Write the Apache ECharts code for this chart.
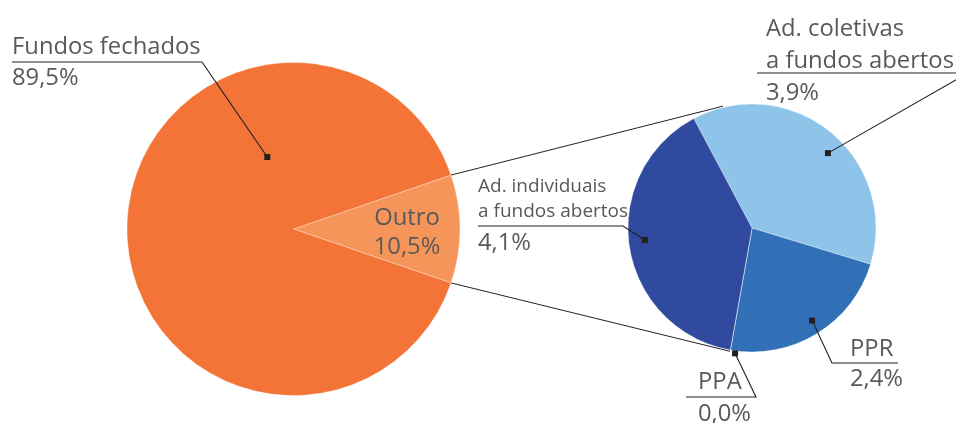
<!DOCTYPE html>
<html>
<head>
<meta charset="utf-8">
<script src="https://cdn.jsdelivr.net/npm/echarts@6/dist/echarts.min.js"></script>
<style>html,body{margin:0;padding:0;background:#fff}#chart{width:956px;height:423px}</style>
</head>
<body>
<div id="chart"></div>
<script>
var mainNames = ['Outro', 'Fundos fechados'];
var mainValues = [10.5, 89.5];
var subNames = ['Ad. coletivas\na fundos abertos', 'PPR', 'PPA', 'Ad. individuais\na fundos abertos'];
var subValues = [3.9, 2.4, 0.0, 4.1];
var mainColors = ['#F6955A', '#F37436'];
var subColors = ['#8EC3EA', '#3170B7', '#A9C4E6', '#2F4A9E'];

var font = 'Open Sans';
var textColor = '#58595B';
var lineColor = '#231F20';

var bigC = [293.5, 229], bigR = 166.5;
var smallC = [752, 228], smallR = 124;
var subStart = 118;

// where each label goes: top-left of text, leader line = dot (angle, share of radius) -> bend -> end
var mainLayout = [
    {x: 407, y: 204, align: 'center'},
    {x: 12, y: 32, dot: [110, 0.46], bend: [202, 62], end: [12, 62]}
];
var subLayout = [
    {x: 766, y: 13, dot: [44.6, 0.86], bend: [968, 73], end: [757, 73]},
    {x: 850, y: 334, dot: [-57, 0.89], bend: [832, 363], end: [898, 363]},
    {x: 698, y: 366, dot: [-97.7, 1.02], bend: [756, 397], end: [686, 397]},
    {x: 478, y: 174, dot: [186.4, 0.87], bend: [623, 226], end: [478, 226]}
];

function polar(c, r, deg, f){
    var a = deg * Math.PI / 180;
    return [c[0] + r * f * Math.cos(a), c[1] - r * f * Math.sin(a)];
}
function pct(v){
    return v.toFixed(1).replace('.', ',') + '%';
}
function rich(nSize, nLh, vLh){
    return {
        n: {fontFamily: font, fontSize: nSize, color: textColor, lineHeight: nLh},
        v: {fontFamily: font, fontSize: 23.8, color: textColor, lineHeight: vLh}
    };
}
function fmt(p){
    return p.name.split('\n').map(function(s){ return '{n|' + s + '}'; }).join('\n') + '\n{v|' + pct(p.value) + '}';
}

var mainData = mainNames.map(function(n, i){
    return {name: n, value: mainValues[i], itemStyle: {color: mainColors[i]}};
});
mainData[0].label = {rich: rich(23.8, 29, 29)};

var subData = subNames.map(function(n, i){
    return {name: n, value: subValues[i], itemStyle: {color: subColors[i]}};
});
subData[0].label = {rich: rich(23.8, 32, 32)};
subData[1].label = {rich: rich(23.8, 30, 30)};
subData[2].label = {rich: rich(23.8, 32, 32)};
subData[3].label = {rich: rich(19, 25, 39)};

function layoutFor(layouts){
    return function(params){
        var L = layouts[params.dataIndex];
        return {x: L.x, y: L.y, align: L.align || 'left', verticalAlign: 'top'};
    };
}

// leader lines with a small square at the start, and the two connectors between pies
var graphics = [];
function addLeaders(layouts, c, r){
    layouts.forEach(function(L){
        if (!L.dot) return;
        var p = polar(c, r, L.dot[0], L.dot[1]);
        graphics.push({type: 'polyline', shape: {points: [p, L.bend, L.end]}, style: {stroke: lineColor, lineWidth: 1.1, fill: null}, z: 100});
        graphics.push({type: 'rect', shape: {x: p[0] - 3, y: p[1] - 3, width: 6, height: 6}, style: {fill: lineColor}, z: 101});
    });
}
addLeaders(mainLayout, bigC, bigR);
addLeaders(subLayout, smallC, smallR);

var mainSum = mainValues.reduce(function(a, b){ return a + b; }, 0);
var subSum = subValues.reduce(function(a, b){ return a + b; }, 0);
var half = mainValues[0] / mainSum * 180;
var ppaAngle = subStart - (subValues[0] + subValues[1]) / subSum * 360;
var up1 = polar(bigC, bigR, half, 1), up2 = polar(smallC, smallR, 103.4, 1.01);
var lo1 = polar(bigC, bigR, -half, 1), lo2 = polar(smallC, smallR, ppaAngle, 1.01);
graphics.push({type: 'line', shape: {x1: up1[0], y1: up1[1], x2: up2[0], y2: up2[1]}, style: {stroke: lineColor, lineWidth: 1}, z: 100});
graphics.push({type: 'line', shape: {x1: lo1[0], y1: lo1[1], x2: lo2[0], y2: lo2[1]}, style: {stroke: lineColor, lineWidth: 1}, z: 100});

var chart = echarts.init(document.getElementById('chart'));
chart.setOption({
    animation: false,
    graphic: graphics,
    series: [
        {
            type: 'pie',
            center: bigC,
            radius: bigR,
            startAngle: half,
            clockwise: true,
            avoidLabelOverlap: false,
            itemStyle: {borderColor: 'rgba(255,255,255,0.5)', borderWidth: 0.6},
            label: {show: true, position: 'outside', formatter: fmt, rich: rich(23.8, 31, 31)},
            labelLine: {show: false},
            labelLayout: layoutFor(mainLayout),
            emphasis: {disabled: true},
            data: mainData
        },
        {
            type: 'pie',
            center: smallC,
            radius: smallR,
            startAngle: subStart,
            clockwise: true,
            avoidLabelOverlap: false,
            itemStyle: {borderColor: 'rgba(255,255,255,0.6)', borderWidth: 0.6},
            label: {show: true, position: 'outside', formatter: fmt, rich: rich(23.8, 31, 31)},
            labelLine: {show: false},
            labelLayout: layoutFor(subLayout),
            emphasis: {disabled: true},
            data: subData
        }
    ]
});
</script>
</body>
</html>
